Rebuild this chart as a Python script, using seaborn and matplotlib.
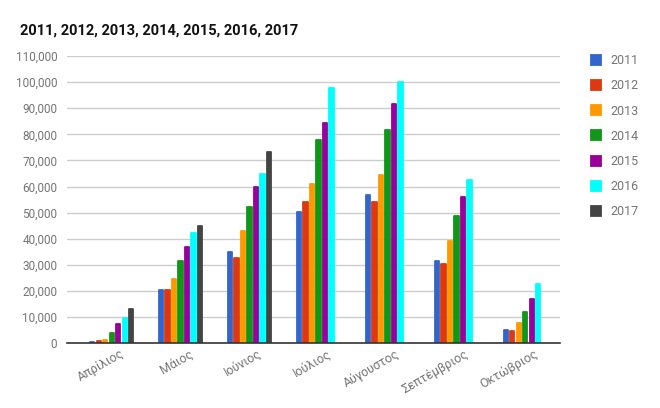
import numpy as np
import pandas as pd
import seaborn as sns
import matplotlib.pyplot as plt
import matplotlib.transforms as mtransforms
from matplotlib.ticker import FuncFormatter

# data
months = ['Απρίλιος', 'Μάιος', 'Ιούνιος', 'Ιούλιος', 'Αύγουστος', 'Σεπτέμβριος', 'Οκτώβριος']
years = ['2011', '2012', '2013', '2014', '2015', '2016', '2017']
v2011 = [500, 20400, 34900, 50200, 56600, 31300, 5000]
v2012 = [900, 20400, 32800, 54000, 54000, 30300, 4600]
v2013 = [1200, 24600, 42800, 60900, 64400, 39200, 7600]
v2014 = [3700, 31300, 52000, 77900, 81700, 48600, 11800]
v2015 = [7300, 37000, 59700, 84300, 91800, 55900, 16800]
v2016 = [9700, 42200, 64900, 97800, 99900, 62400, 22600]
v2017 = [13000, 44700, 73200, np.nan, np.nan, np.nan, np.nan]

colors = ['#3366cc', '#dc3912', '#ff9900', '#109618', '#990099', '#00ffff', '#444444']

series = [v2011, v2012, v2013, v2014, v2015, v2016, v2017]
rows = []
for y, vals in zip(years, series):
    for m, v in zip(months, vals):
        rows.append({'month': m, 'year': y, 'value': v})
df = pd.DataFrame(rows)

sns.set_style('white')
plt.rcParams['font.family'] = ['Roboto', 'DejaVu Sans']

fig = plt.figure(figsize=(6.6, 4.08), dpi=100)
ax = fig.add_axes([0.1015, 0.159, 0.7465, 0.7037])

sns.barplot(data=df, x='month', y='value', hue='year', order=months, hue_order=years,
            palette=colors, width=0.66, gap=0.32, saturation=1, ax=ax, legend=True)

# rounded tops: stroke each bar in its own colour with round joins
for bar in ax.patches:
    bar.set_edgecolor(bar.get_facecolor())
    bar.set_linewidth(1.3)
    bar.set_joinstyle('round')

ax.set_ylim(0, 110000)
ax.set_xlim(-0.65, 6.5)
ax.set_yticks(range(0, 110001, 10000))
ax.yaxis.set_major_formatter(FuncFormatter(lambda v, p: f'{int(v):,}'))
ax.grid(axis='y', color='#cccccc', linewidth=1)
ax.set_axisbelow(True)
for s in ['top', 'right', 'left']:
    ax.spines[s].set_visible(False)
ax.spines['bottom'].set_color('#333333')
ax.spines['bottom'].set_linewidth(1.2)
ax.spines['bottom'].set_zorder(5)
ax.tick_params(axis='y', length=0, labelsize=8.5, labelcolor='#757575', pad=7)
ax.tick_params(axis='x', length=0, labelsize=9, labelcolor='#757575', pad=3)
shift = mtransforms.ScaledTranslation(0.08, 0, fig.dpi_scale_trans)
for lbl in ax.get_xticklabels():
    lbl.set_rotation(30)
    lbl.set_ha('right')
    lbl.set_rotation_mode('anchor')
    lbl.set_transform(lbl.get_transform() + shift)
ax.set_xlabel('')
ax.set_ylabel('')

fig.text(0.03, 0.925, '2011, 2012, 2013, 2014, 2015, 2016, 2017', fontsize=10.5,
         fontweight='bold', color='#111111', va='center')

leg = ax.legend(loc='upper left', bbox_to_anchor=(1.04, 1.045), frameon=False,
                fontsize=9, labelcolor='#757575', handlelength=0.85, handleheight=0.85,
                labelspacing=0.97, handletextpad=0.75)

fig.savefig('out.png', dpi=100)
